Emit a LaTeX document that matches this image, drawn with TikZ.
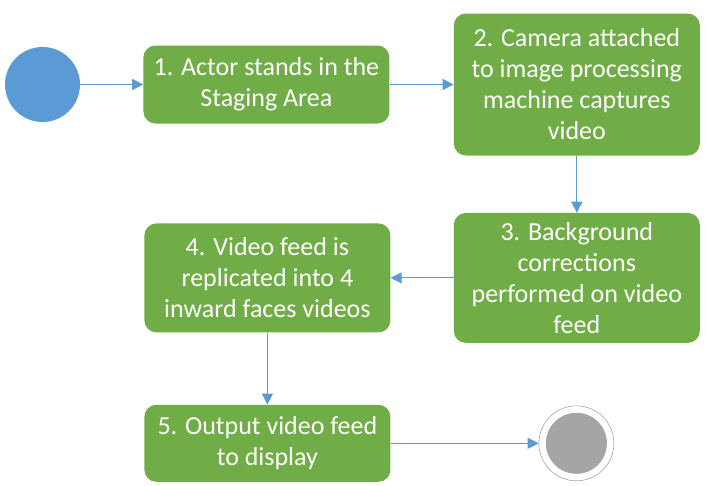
\documentclass[tikz,border=0pt]{standalone}
\usepackage{fontspec}
\setmainfont{Carlito}
\usetikzlibrary{arrows.meta,positioning}
\definecolor{stepgreen}{HTML}{70AD47}
\definecolor{flowblue}{HTML}{5B9BD5}
\definecolor{endgray}{HTML}{A5A5A5}

\begin{document}
\begin{tikzpicture}[
  x=1pt, y=1pt,
  stepbox/.style={rectangle, rounded corners=12pt, fill=stepgreen,
                  text=white, minimum width=246pt, align=center,
                  inner sep=4pt, font=\fontsize{26}{31}\selectfont},
  startdot/.style={circle, fill=flowblue, minimum size=75pt, inner sep=0pt},
  arr/.style={-{Triangle[length=11pt,width=11pt]}, line width=1pt, draw=flowblue}
]
  \useasboundingbox (0,0) rectangle (706,-485);

  %% Start
  \node[startdot] (start) at (42.5,-84.5) {};

  %% Steps
  \node[stepbox, minimum height=78pt, right=63pt of start] (actor)
    {1. Actor stands in the\\Staging Area};
  \node[stepbox, minimum height=142pt, right=64pt of actor] (camera)
    {2. Camera attached\\to image processing\\machine captures\\video};
  \node[stepbox, minimum height=130pt, below=57pt of camera] (backgr)
    {3. Background\\corrections\\performed on video\\feed};
  \node[stepbox, minimum height=109pt, left=63pt of backgr] (replic)
    {4. Video feed is\\replicated into 4\\inward faces videos};
  \node[stepbox, minimum height=77pt, below=72pt of replic] (output)
    {5. Output video feed\\to display};

  %% End
  \node[circle, draw=endgray, line width=0.6pt, minimum size=75pt,
        inner sep=0pt, right=148pt of output] (finish) {};
  \node[circle, fill=endgray, minimum size=61pt, inner sep=0pt] (finishin)
    at (finish) {};

  %% Arrows
  \draw[arr] (start) -- (actor);
  \draw[arr] (actor) -- (camera);
  \draw[arr] (camera) -- (backgr);
  \draw[arr] (backgr) -- (replic);
  \draw[arr] (replic) -- (output);
  \draw[arr] (output) -- (finish);
\end{tikzpicture}
\end{document}
